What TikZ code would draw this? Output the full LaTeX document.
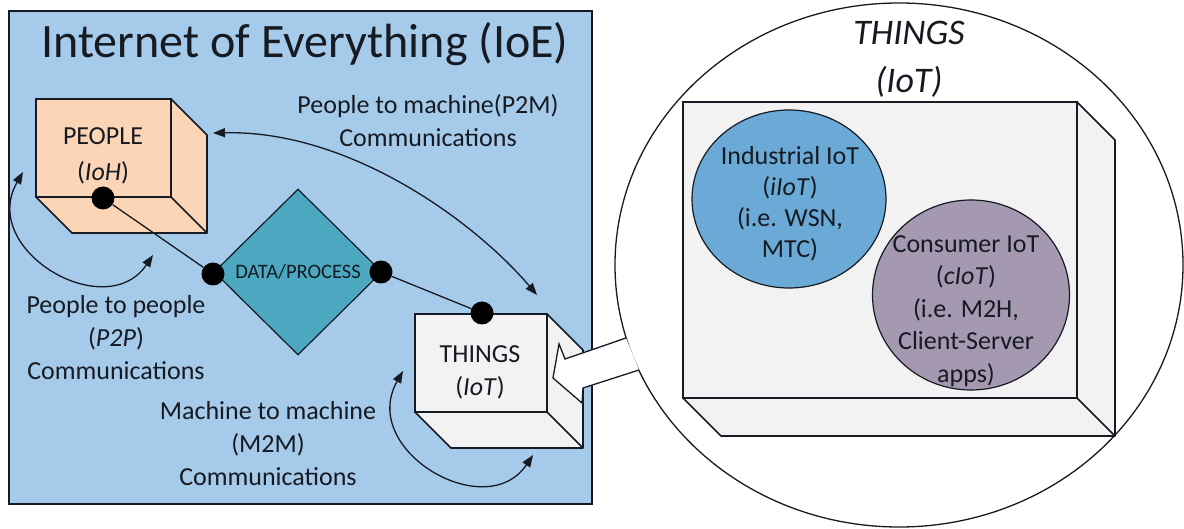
\documentclass[tikz,border=0pt]{standalone}
\usepackage{fontspec}
\setmainfont{Carlito}
\usetikzlibrary{arrows.meta,shapes.geometric,calc}

\definecolor{panelblue}{RGB}{166,202,234}
\definecolor{peoplepeach}{RGB}{251,213,182}
\definecolor{datateal}{RGB}{75,168,192}
\definecolor{thingsgray}{RGB}{242,242,242}
\definecolor{iiotblue}{RGB}{107,170,214}
\definecolor{ciotmauve}{RGB}{164,153,177}
\definecolor{ink}{RGB}{22,26,34}

% side and bottom faces of a box whose front face is node #1
\newcommand\cubedepth[3]{% face node, depth, fill colour
  \filldraw[fill=#3, draw=ink, line width=1.6pt, line join=round]
    (#1.north east) -- ++(#2,#2) |- ($(#1.south west)+(#2,#2)$)
    -- (#1.south west) -- (#1.south east) -- cycle;
  \draw[ink, line width=1.6pt] (#1.south east) -- ++(#2,#2);
}

\begin{document}
\begin{tikzpicture}[x=1pt, y=-1pt,
  txt/.style={font=\fontsize{26}{33}\selectfont, text=ink, align=center, inner sep=0pt},
  cubeface/.style={draw=ink, line width=1.6pt, inner sep=0pt, outer sep=0pt, anchor=north west},
  blob/.style={circle, fill=black, minimum size=23pt, inner sep=0pt},
  link/.style={draw=ink, line width=1.3pt},
  comm/.style={draw=ink, line width=1.3pt,
    {Triangle[length=12pt,width=9pt]}-{Triangle[length=12pt,width=9pt]}},
]
\useasboundingbox (0,0) rectangle (1184,529);

% Internet of Everything panel
\node[draw=ink, fill=panelblue, line width=1.5pt, anchor=north west,
      minimum width=583pt, minimum height=493pt, inner sep=0pt, outer sep=0pt]
      (panel) at (9,11) {};
\node[font=\fontsize{48}{56}\selectfont, text=ink, anchor=base, inner sep=0pt]
      (title) at (305,58) {Internet of Everything (IoE)};

% enlarged view of the things
\node[ellipse, draw=ink, fill=white, line width=1.3pt,
      minimum width=568pt, minimum height=524pt, inner sep=0pt] (zoomview) at (899,265) {};
\node[txt, font=\fontsize{36}{48}\selectfont\itshape] (zoomtitle) at (909,59) {THINGS\\(IoT)};

\node[cubeface, fill=thingsgray, minimum width=394pt, minimum height=296pt] (iotbox) at (683,102) {};
\cubedepth{iotbox}{38}{thingsgray}

\node[ellipse, draw=ink, fill=iiotblue, line width=1.2pt,
      minimum width=194pt, minimum height=178pt, inner sep=0pt] (iiot) at (789,199) {};
\node[txt, font=\fontsize{26}{31}\selectfont] (iiottext) at (790,204)
      {Industrial IoT\\(\textit{iIoT})\\(i.e. WSN,\\MTC)};

\node[ellipse, draw=ink, fill=ciotmauve, line width=1.2pt,
      minimum width=197pt, minimum height=190pt, inner sep=0pt] (ciot) at (971,295) {};
\node[txt, font=\fontsize{26}{32.5}\selectfont] (ciottext) at (966,311)
      {Consumer IoT\\(\textit{cIoT})\\(i.e. M2H,\\Client-Server\\apps)};

% communication labels
\node[txt] (p2m) at (428,121) {People to machine(P2M)\\Communications};
\node[txt] (p2p) at (116,338) {People to people\\(\textit{P2P})\\Communications};
\node[txt] (m2m) at (268,444) {Machine to machine\\(M2M)\\Communications};

% people cube
\node[cubeface, fill=peoplepeach, minimum width=135pt, minimum height=98pt] (people) at (36,99) {};
\cubedepth{people}{36}{peoplepeach}
\node[txt] (peopletext) at (103,156) {PEOPLE\\[3pt](\textit{IoH})};

% things cube
\node[cubeface, fill=thingsgray, minimum width=132pt, minimum height=98pt] (things) at (415,314) {};
\cubedepth{things}{36}{thingsgray}
\node[txt] (thingstext) at (480,372) {THINGS\\(\textit{IoT})};

% data / process
\node[diamond, draw=ink, fill=datateal, line width=1.2pt, minimum width=168pt,
      minimum height=166pt, inner sep=0pt, font=\fontsize{20.5}{24}\selectfont, text=ink]
      (data) at (298,272) {DATA/PROCESS};

% junction dots and links
\node[blob] (dotpeople) at (103,198) {};
\node[blob] (dotleft) at (213,274) {};
\node[blob] (dotright) at (381,272) {};
\node[blob] (dotthings) at (482,313) {};
\draw[link] (dotpeople) -- (dotleft);
\draw[link] (dotright) -- (dotthings);

% communication arrows
\coordinate (p2mA) at (213,133);
\coordinate (p2mB) at (537,295);
\draw[comm] (p2mA) .. controls (350,130) and (475,222) .. (p2mB);
\coordinate (p2pA) at (153,255);
\coordinate (p2pB) at (23,172);
\draw[comm] (p2pA) .. controls (106,325) and (-22,250) .. (p2pB);
\coordinate (m2mA) at (533,455);
\coordinate (m2mB) at (403,371);
\draw[comm] (m2mA) .. controls (486,525) and (358,450) .. (m2mB);

% block arrow from the enlarged view to the things cube
\fill[white] (553,378) -- (559,344) -- (565,359) -- (626,338) -- (639,370)
  -- (583,388) -- (582,403) -- cycle;
\draw[ink, line width=1.3pt, line join=miter]
  (626,338) -- (565,359) -- (559,344) -- (553,378) -- (582,403) -- (583,388) -- (639,370);
\end{tikzpicture}
\end{document}
